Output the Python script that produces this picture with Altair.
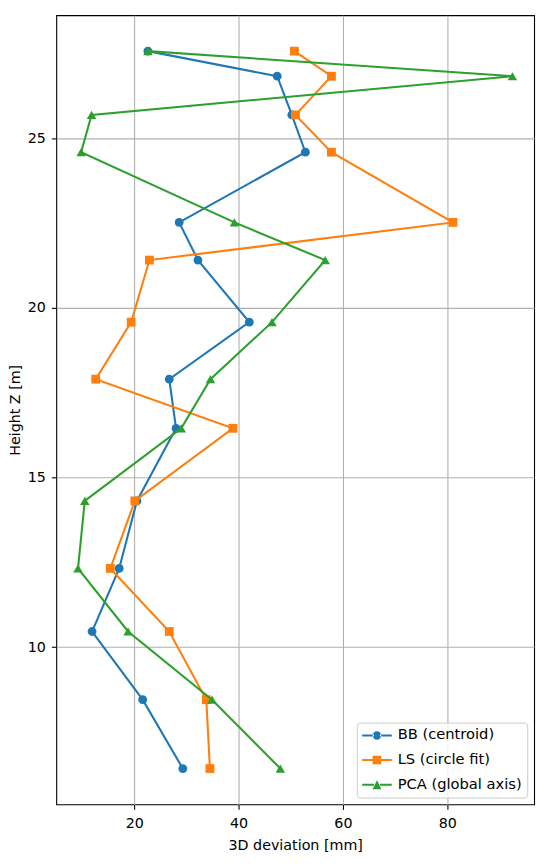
import altair as alt
import pandas as pd

# ---- data ----
heights = [27.57, 26.83, 25.69, 24.59, 22.52, 21.41, 19.58, 17.90, 16.45, 14.31, 12.32, 10.46, 8.45, 6.42]
bb_dev = [22.6, 47.4, 50.2, 52.8, 28.6, 32.2, 42.05, 26.7, 28.0, 20.5, 17.1, 11.9, 21.6, 29.3]
ls_dev = [50.7, 57.8, 50.9, 57.8, 81.1, 22.9, 19.4, 12.6, 38.9, 20.1, 15.4, 26.7, 33.8, 34.5]
pca_dev = [22.6, 92.5, 11.8, 9.8, 39.2, 56.6, 46.4, 34.6, 29.0, 10.5, 9.2, 18.8, 34.9, 48.0]

series_names = ["BB (centroid)", "LS (circle fit)", "PCA (global axis)"]
series_colors = ["#1f77b4", "#ff7f0e", "#2ca02c"]
series_shapes = ["circle", "square", "triangle-up"]
series_sizes = [80, 80, 92]
x_ticks = [20, 40, 60, 80]
y_ticks = [10, 15, 20, 25]

# legend handle glyphs (line + marker); one path unit = 7.5 px
_ln = "M-2,-0.14L-0.4,-0.14L-0.4,0.14L-2,0.14Z M0.4,-0.14L2,-0.14L2,0.14L0.4,0.14Z "
legend_paths = [
    _ln + "M-0.58,0A0.58,0.58 0 1,0 0.58,0A0.58,0.58 0 1,0 -0.58,0Z",
    _ln + "M-0.58,-0.58L0.58,-0.58L0.58,0.58L-0.58,0.58Z",
    _ln + "M0,-0.6L0.6,0.6L-0.6,0.6Z",
]

rows = []
for name, vals in zip(series_names, [bb_dev, ls_dev, pca_dev]):
    for i, (z, d) in enumerate(zip(heights, vals)):
        rows.append({"series": name, "idx": i, "z": z, "dev": d})
df = pd.DataFrame(rows)

all_x = bb_dev + ls_dev + pca_dev
xr = max(all_x) - min(all_x)
xdom = [min(all_x) - 0.05 * xr, max(all_x) + 0.05 * xr]
yr = max(heights) - min(heights)
ydom = [min(heights) - 0.05 * yr, max(heights) + 0.05 * yr]

xenc = alt.X("dev:Q", scale=alt.Scale(domain=xdom, nice=False, zero=False),
             axis=alt.Axis(values=x_ticks, format="d", title="3D deviation [mm]"))
yenc = alt.Y("z:Q", scale=alt.Scale(domain=ydom, nice=False, zero=False),
             axis=alt.Axis(values=y_ticks, format="d", title="Height Z [m]"))

base = alt.Chart(df)
layers = []
for name, col, shp, sz in zip(series_names, series_colors, series_shapes, series_sizes):
    sub = base.transform_filter(alt.datum.series == name)
    layers.append(sub.mark_line(color=col, strokeWidth=2.1).encode(
        x=xenc, y=yenc, order=alt.Order("idx:Q")))
    layers.append(sub.mark_point(shape=shp, filled=True, color=col, size=sz,
                                 opacity=1, strokeWidth=0).encode(x=xenc, y=yenc))

leg_opts = dict(orient="bottom-right", offset=7,
                labelFont="DejaVu Sans", labelFontSize=14.9, labelColor="black",
                symbolSize=225, symbolStrokeWidth=0, symbolOffset=7.5, symbolOpacity=1,
                labelOffset=13.5, padding=5.5, rowPadding=9,
                fillColor="rgba(255,255,255,0.8)", strokeColor="#cccccc",
                cornerRadius=3)
leg = alt.Legend(title=None, **leg_opts)

legend_layer = base.transform_filter("false").mark_point(
    filled=True, opacity=1, size=225, strokeWidth=0).encode(
    x=xenc, y=yenc,
    color=alt.Color("series:N", scale=alt.Scale(domain=series_names, range=series_colors), legend=leg),
    shape=alt.Shape("series:N", scale=alt.Scale(domain=series_names, range=legend_paths), legend=leg),
)

chart = alt.layer(*layers, legend_layer).properties(
    width=485, height=801,
    autosize=alt.AutoSizeParams(type="none"),
    padding={"left": 49, "top": 1, "right": 8, "bottom": 46},
).configure(font="DejaVu Sans").configure_view(
    stroke="black", strokeWidth=1.1
).configure_axis(
    labelFont="DejaVu Sans", labelFontSize=14.5, labelColor="black",
    titleFont="DejaVu Sans", titleFontSize=14.5, titleFontWeight="normal", titleColor="black",
    tickColor="black", tickWidth=1.1, tickSize=5, labelPadding=5,
    grid=True, gridColor="#b0b0b0", gridWidth=1.1, domain=False,
).configure_axisX(titlePadding=9, labelPadding=7).configure_axisY(
    titlePadding=5, labelPadding=6
).configure_legend(**leg_opts)

chart.save("out.html", embed_options={"renderer": "svg", "actions": False})
